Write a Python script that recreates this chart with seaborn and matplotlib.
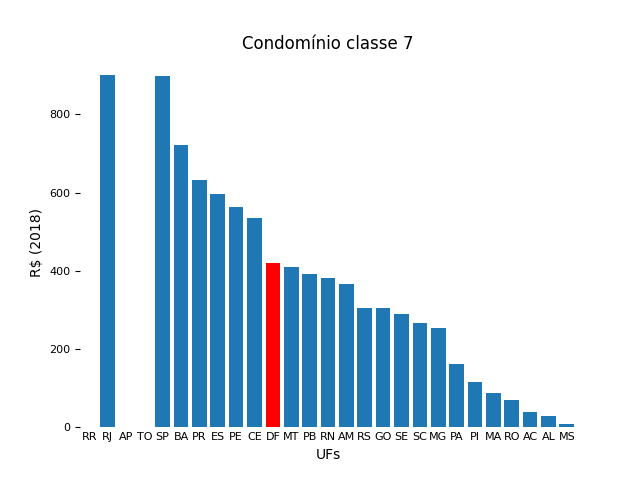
import matplotlib
matplotlib.use("Agg")
import matplotlib.pyplot as plt
import seaborn as sns
import pandas as pd

ufs = ["RR","RJ","AP","TO","SP","BA","PR","ES","PE","CE","DF","MT","PB","RN","AM","RS","GO","SE","SC","MG","PA","PI","MA","RO","AC","AL","MS"]
valores = [0,900,0,0,898,722,632,597,563,535,420,410,392,382,367,305,305,290,267,254,162,115,87,70,38,29,8]

df = pd.DataFrame({"UF": ufs, "valor": valores})
cores = ["red" if u == "DF" else "#1f77b4" for u in ufs]

fig, ax = plt.subplots(figsize=(6.4, 4.8), dpi=100)
sns.barplot(data=df, x="UF", y="valor", hue="UF", palette=cores, legend=False,
            ax=ax, saturation=1, width=0.8)
sns.despine(ax=ax, left=True, bottom=True)
ax.set_title("Condomínio classe 7", fontsize=12)
ax.set_xlabel("UFs", fontsize=10)
ax.set_ylabel("R$ (2018)", fontsize=10)
ax.tick_params(axis="both", labelsize=8)
ax.tick_params(axis="x", length=0)
ax.set_ylim(0, 945)
fig.savefig("out.png")
